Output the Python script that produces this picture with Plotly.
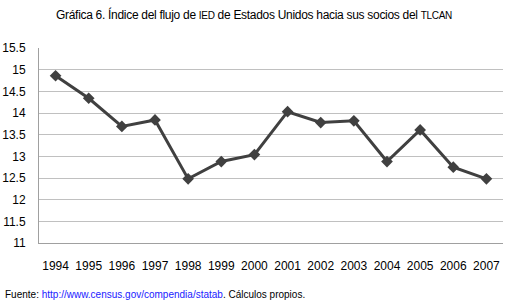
import plotly.graph_objects as go

years = ["1994", "1995", "1996", "1997", "1998", "1999", "2000",
         "2001", "2002", "2003", "2004", "2005", "2006", "2007"]
values = [14.86, 14.34, 13.69, 13.84, 12.48, 12.88, 13.04,
          14.03, 13.78, 13.82, 12.88, 13.61, 12.75, 12.48]
y_ticks = [11, 11.5, 12, 12.5, 13, 13.5, 14, 14.5, 15, 15.5]

FONT = "Liberation Sans Narrow, Arial Narrow, Liberation Sans, Arial"

W, H = 505, 304
L, R, T, B = 36, 2, 48, 61
PW, PH = W - L - R, H - T - B

fig = go.Figure()
fig.add_trace(go.Scatter(
    x=list(range(len(years))), y=values, mode="lines+markers",
    line=dict(color="#404040", width=3),
    marker=dict(symbol="diamond", size=9, color="#404040"),
    showlegend=False, hoverinfo="skip",
))

title_text = ("<span style='letter-spacing:-0.3px'>Gráfica 6. Índice del flujo de "
              "<span style='font-size:10px'>IED</span> de Estados Unidos hacia sus socios del "
              "<span style='font-size:10px'>TLCAN</span></span>")

fig.update_layout(
    width=W, height=H,
    margin=dict(l=L, r=R, t=T, b=B),
    paper_bgcolor="white", plot_bgcolor="white",
    font=dict(family=FONT, size=12, color="#000000"),
    xaxis=dict(
        tickmode="array", tickvals=list(range(len(years))), ticktext=years,
        range=[-0.5, len(years) - 0.5], showgrid=False, zeroline=False,
        showline=True, linecolor="#a0a0a0", linewidth=1,
        ticks="", ticklabelstandoff=12, tickfont=dict(size=12),
    ),
    yaxis=dict(
        range=[11, 15.5], tickmode="array", tickvals=y_ticks,
        ticktext=[str(t) for t in y_ticks],
        showgrid=True, gridcolor="#c0c0c0", gridwidth=1,
        showline=True, linecolor="#a0a0a0", linewidth=1,
        zeroline=False, ticks="", ticklabelstandoff=10, tickfont=dict(size=12),
    ),
    annotations=[
        dict(text=title_text,
             x=(252 - L) / PW, xref="paper", y=1 + (T - 15) / PH, yref="paper",
             yanchor="middle", xanchor="center", showarrow=False, font=dict(size=12)),
        dict(text="Fuente: <span style='color:#1a1aff'>http://www.census.gov/compendia/statab</span>. Cálculos propios.",
             x=-L / PW, xref="paper", xanchor="left",
             y=-(294 - (H - B)) / PH, yref="paper", yanchor="middle",
             showarrow=False, font=dict(size=10)),
    ],
)

fig.write_html("out.html", config={"displayModeBar": False},
               post_script="document.body.style.margin='0';document.body.style.overflow='hidden';")
